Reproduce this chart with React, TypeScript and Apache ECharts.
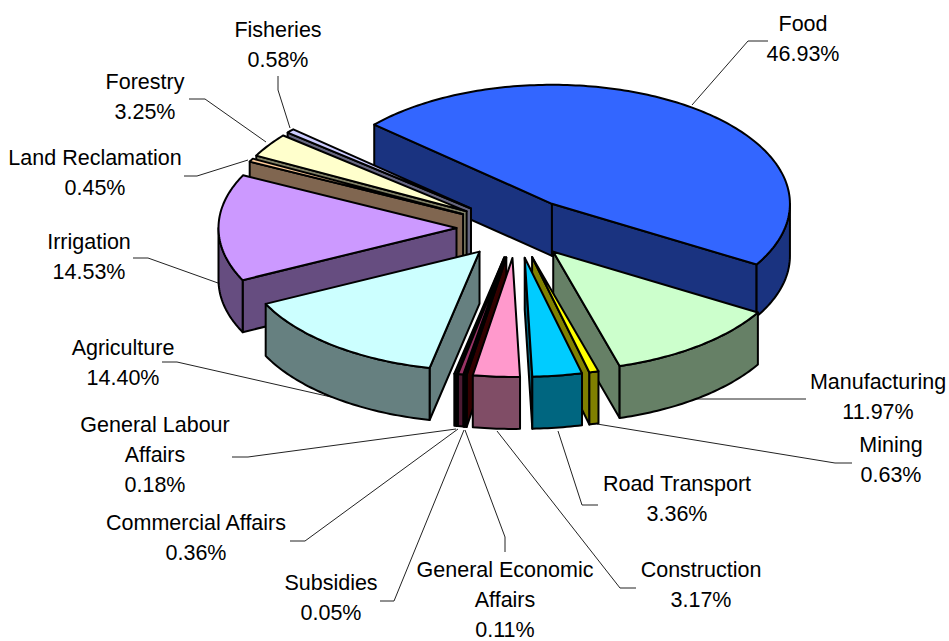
import React, { useEffect, useRef } from "react";
import * as echarts from "echarts";

const categories = ["Food", "Manufacturing", "Mining", "Road Transport", "Construction", "General Economic Affairs", "Subsidies", "Commercial Affairs", "General Labour Affairs", "Agriculture", "Irrigation", "Land Reclamation", "Forestry", "Fisheries"];
const shares = [46.93, 11.97, 0.63, 3.36, 3.17, 0.11, 0.05, 0.36, 0.18, 14.4, 14.53, 0.45, 3.25, 0.58];
const topColors = ["#3366FF", "#CCFFCC", "#FFFF00", "#00CCFF", "#FF99CC", "#660000", "#000000", "#993366", "#111111", "#CCFFFF", "#CC99FF", "#FFCC99", "#FFFFCC", "#CCCCFF"];
const wallColors = ["#1A3380", "#668066", "#808000", "#006680", "#804D66", "#330000", "#000000", "#4D1A33", "#000000", "#668080", "#664D80", "#806650", "#808066", "#666680"];
const labelLines = [
  ["Food", "46.93%"], ["Manufacturing", "11.97%"], ["Mining", "0.63%"], ["Road Transport", "3.36%"],
  ["Construction", "3.17%"], ["General Economic", "Affairs", "0.11%"], ["Subsidies", "0.05%"],
  ["Commercial Affairs", "0.36%"], ["General Labour", "Affairs", "0.18%"], ["Agriculture", "14.40%"],
  ["Irrigation", "14.53%"], ["Land Reclamation", "0.45%"], ["Forestry", "3.25%"], ["Fisheries", "0.58%"],
];
const labelAnchors = [
  [803, 24], [878, 382], [891, 445], [677, 484], [701, 570], [505, 570], [331, 583],
  [196, 523], [155, 425], [123, 348], [89, 242], [95, 158], [145, 82], [278, 30],
];
const leaders = [
  [[692, 105], [748, 41], [768, 41]],
  [[695, 399], [806, 399]],
  [[597, 424], [835, 463], [852, 463]],
  [[558, 431], [582, 505], [598, 505]],
  [[497, 431], [620, 588], [636, 588]],
  [[465, 430], [505, 537], [505, 552]],
  [[464, 430], [394, 601], [380, 601]],
  [[458, 429], [305, 541], [290, 541]],
  [[456, 429], [248, 457], [232, 457]],
  [[340, 399], [177, 362], [162, 362]],
  [[218, 283], [148, 258], [133, 258]],
  [[248, 160], [197, 176], [184, 176]],
  [[266, 142], [205, 99], [189, 99]],
  [[290, 128], [278, 90], [278, 76]],
];

const CX = 516.5, CY = 228, R = 238, TILT = 0.5, EXPLODE = 60, DEPTH = 52, FIRST_ANGLE = 138.3;
const total = shares.reduce((a, b) => a + b, 0);
const rad = (d: number) => (d * Math.PI) / 180;

const ranges = (() => {
  let acc = 0;
  return shares.map((v) => {
    const start = FIRST_ANGLE - (acc / total) * 360;
    acc += v;
    return [start, FIRST_ANGLE - (acc / total) * 360];
  });
})();
const apexY = (i: number) => CY - EXPLODE * TILT * Math.sin(rad((ranges[i][0] + ranges[i][1]) / 2));
const drawOrder = shares.map((_, i) => i).sort((a, b) => apexY(a) - apexY(b));

function renderSlice(_: any, api: any) {
  const i = api.value(0) as number;
  const value = api.value(1) as number;
  const before = shares.slice(0, i).reduce((a, b) => a + b, 0);
  const start = FIRST_ANGLE - (before / total) * 360;
  const end = start - (value / total) * 360;
  const mid = rad((start + end) / 2);
  const ax = CX + EXPLODE * Math.cos(mid);
  const ay = CY - EXPLODE * TILT * Math.sin(mid);
  const pt = (d: number, drop = 0) => [ax + R * Math.cos(rad(d)), ay - R * TILT * Math.sin(rad(d)) + drop];
  const arc = (a: number, b: number, drop = 0) => {
    const n = Math.max(1, Math.ceil(Math.abs(a - b)));
    const out: number[][] = [];
    for (let k = 0; k <= n; k++) out.push(pt(a + ((b - a) * k) / n, drop));
    return out;
  };
  const edge = { stroke: "#000", lineWidth: 2, lineJoin: "round" };
  const children: any[] = [];
  const wall = (points: number[][]) =>
    children.push({ type: "polygon", shape: { points }, style: { fill: wallColors[i], ...edge } });
  const radial = (d: number) => {
    const p = pt(d);
    wall([[ax, ay], p, [p[0], p[1] + DEPTH], [ax, ay + DEPTH]]);
  };
  if (Math.cos(rad(start)) < 0) radial(start);
  if (Math.cos(rad(end)) > 0) radial(end);
  const fa = Math.min(start, 0), fb = Math.max(end, -180);
  if (fa > fb) wall([...arc(fa, fb), ...arc(fb, fa, DEPTH)]);
  children.push({ type: "polygon", shape: { points: [[ax, ay], ...arc(start, end)] }, style: { fill: topColors[i], ...edge } });
  return { type: "group", children };
}

export default function App() {
  const ref = useRef<HTMLDivElement>(null);
  useEffect(() => {
    const chart = echarts.init(ref.current!, undefined, { renderer: "svg" });
    const graphics: any[] = [];
    leaders.forEach((points) =>
      graphics.push({ type: "polyline", shape: { points }, style: { fill: "none", stroke: "#222", lineWidth: 1 }, z: 1 })
    );
    labelLines.forEach((lines, i) =>
      lines.forEach((t, k) =>
        graphics.push({
          type: "text",
          x: labelAnchors[i][0],
          y: labelAnchors[i][1] + k * 30,
          z: 5,
          style: { text: t, fill: "#000", font: '21.5px "Liberation Sans", Arial, sans-serif', textAlign: "center", textVerticalAlign: "middle" },
        })
      )
    );
    chart.setOption({
      animation: false,
      backgroundColor: "#fff",
      graphic: { elements: graphics },
      series: [{
        type: "custom",
        coordinateSystem: "none",
        silent: true,
        clip: false,
        z: 3,
        encode: { value: 1, itemName: 2 },
        renderItem: renderSlice,
        data: drawOrder.map((i) => [i, shares[i], categories[i]]),
      }],
    });
    return () => chart.dispose();
  }, []);
  return <div ref={ref} style={{ position: "absolute", left: 0, top: 0, width: 949, height: 641 }} />;
}
